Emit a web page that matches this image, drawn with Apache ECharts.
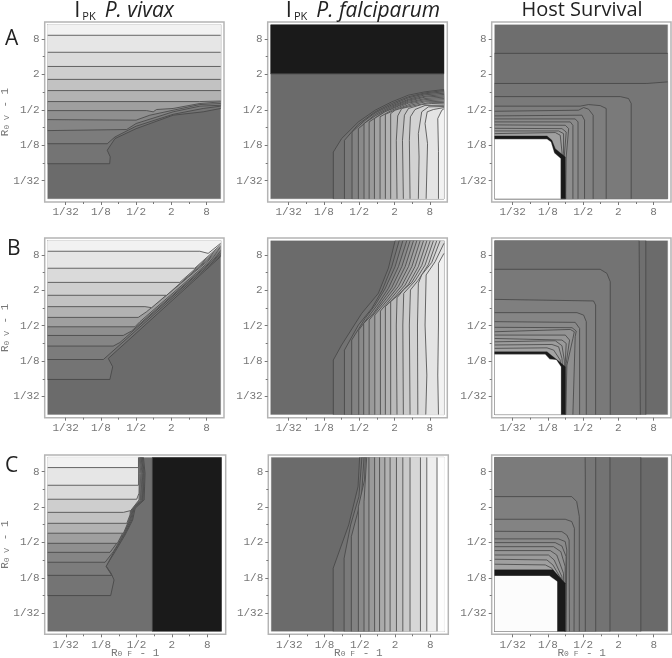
<!DOCTYPE html>
<html><head><meta charset="utf-8">
<style>html,body{margin:0;padding:0;background:#fff}#c{width:672px;height:658px}</style>
<script src="https://cdn.jsdelivr.net/npm/echarts@6/dist/echarts.min.js"></script>
</head><body><div id="c"></div>
<script>
// All coordinates are log2(R0 - 1)
const XL=-6.02, XR=3.8, YB=-6.02, YT=3.8;
const majorTicks=[-5,-3,-1,1,3];
const minorTicks=[-4,-2,0,2];
const tickLabels={'-5':'1/32','-3':'1/8','-1':'1/2','1':'2','3':'8'};

const BLACK='#1a1a1a', WHITE='#ffffff';
const shades11=['#747474','#7c7c7c','#858585','#8f8f8f','#9f9f9f','#b2b2b2','#c2c2c2','#cecece','#dadada','#e6e6e6','#f2f2f2'];
const shades16=['#737373','#7a7a7a','#828282','#8a8a8a','#929292','#9a9a9a','#a2a2a2','#aaaaaa','#b2b2b2','#bababa','#c2c2c2','#cacaca','#d2d2d2','#dadada','#e4e4e4','#f2f2f2'];

const A1_lines=[
 [[XL,-4.04],[-2.5,-4.04],[-2.47,-3.65],[-2.64,-3.28],[-2.2,-2.62],[-1,-2.06],[1.1,-1.3],[2.81,-1.11],[XR,-.92]],
 [[XL,-2.91],[-2.64,-2.91],[-2.2,-2.53],[-1,-1.92],[1.1,-1.25],[2.81,-.92],[XR,-.79]],
 [[XL,-2.17],[-1.54,-2.11],[-1,-1.77],[1.1,-1.11],[2.62,-.79],[XR,-.74]],
 [[XL,-1.55],[-1,-1.58],[-.22,-1.3],[1.1,-1.02],[2.62,-.7],[XR,-.64]],
 [[XL,-1.04],[-.41,-1.04],[-.03,-1.11],[.16,-.98],[1.1,-.92],[2.62,-.64],[XR,-.55]],
 [[XL,-.53],[2.6,-.53],[XR,-.5]],
 [[XL,.09],[XR,.09]],
 [[XL,.72],[XR,.72]],
 [[XL,1.45],[XR,1.45]],
 [[XL,2.25],[XR,2.25]],
 [[XL,3.21],[XR,3.21]]
];
const A2_lines=[
 [[-2.47,YB],[-2.47,-3.38],[-2,-2.62],[-1.05,-1.68],[-.1,-1.02],[.84,-.55],[1.79,-.17],[2.73,.02],[XR,.15]],
 [[-1.84,YB],[-1.84,-2.72],[-1.05,-1.81],[-.1,-1.11],[.84,-.64],[1.79,-.26],[2.73,-.04],[XR,.09]],
 [[-1.41,YB],[-1.41,-2.25],[-.67,-1.59],[-.1,-1.17],[.84,-.72],[1.79,-.32],[2.73,-.09],[XR,.02]],
 [[-1.05,YB],[-1.05,-2.06],[-.1,-1.26],[.84,-.79],[1.79,-.4],[2.73,-.15],[XR,-.06]],
 [[-.73,YB],[-.73,-1.77],[-.1,-1.34],[.84,-.85],[1.79,-.45],[2.73,-.23],[XR,-.13]],
 [[-.44,YB],[-.44,-1.68],[.27,-1.21],[.84,-.91],[1.79,-.51],[2.73,-.28],[XR,-.21]],
 [[-.14,YB],[-.14,-1.49],[.46,-1.11],[1.22,-.79],[1.79,-.57],[2.73,-.36],[XR,-.28]],
 [[.18,YB],[.18,-1.39],[.84,-1.02],[1.79,-.62],[2.73,-.42],[XR,-.36]],
 [[.48,YB],[.48,-1.25],[1.22,-.92],[1.98,-.64],[2.73,-.49],[XR,-.43]],
 [[.78,YB],[.78,-1.21],[1.03,-1.02],[1.98,-.72],[2.73,-.55],[XR,-.51]],
 [[1.14,YB],[1.1,-2.72],[1.18,-1.34],[1.41,-.92],[2.16,-.75],[2.92,-.6],[XR,-.58]],
 [[1.5,YB],[1.45,-2.72],[1.56,-1.3],[1.79,-.92],[2.54,-.7],[3.11,-.64],[XR,-.66]],
 [[1.88,YB],[1.84,-2.72],[1.9,-1.39],[2.16,-.98],[2.73,-.75],[XR,-.74]],
 [[2.35,YB],[2.39,-3.66],[2.35,-2.34],[2.54,-1.11],[2.92,-.83],[XR,-.81]],
 [[2.79,YB],[2.87,-2.91],[2.73,-1.77],[2.85,-1.11],[3.2,-.98],[XR,-.87]],
 [[3.49,YB],[3.49,-3.34],[3.45,-1.49],[3.68,-1.02],[XR,-.94]]
];
const A2_black=[[[XL,1.04],[XR,1.04]]];
const A3_lines=[
 [[XR,2.19],[XL,2.19]],
 [[XR,.58],[2.62,.49],[XL,.49]],
 [[1.73,YB],[1.73,-.64],[1.58,-.36],[1.11,-.25],[XL,-.25]],
 [[.31,YB],[.31,-.92],[-.03,-.76],[-.69,-.7],[-1.16,-.79],[XL,-.79]],
 [[-.43,YB],[-.43,-1.3],[-.69,-.96],[-.97,-.87],[-1.26,-1.02],[XL,-1.08]],
 [[-.92,YB],[-.92,-1.58],[-1.07,-1.3],[XL,-1.34]],
 [[-1.29,YB],[-1.29,-1.68],[-1.45,-1.51],[XL,-1.51]],
 [[-1.58,YB],[-1.58,-1.87],[-1.73,-1.68],[XL,-1.68]],
 [[-1.99,YB],[-1.96,-3.66],[-1.82,-2.06],[-2.01,-1.87],[XL,-1.85]],
 [[-1.99,YB],[-2.07,-3.66],[-1.96,-2.25],[-2.2,-2.06],[XL,-2.04]],
 [[-2,YB],[-2.11,-3.47],[-2.11,-2.34],[-2.39,-2.19],[XL,-2.19]],
 [[-2,YB],[-2.2,-3.38],[-2.3,-2.43],[-2.58,-2.28],[XL,-2.34]]
];
const A3_edge=[
 [[-2.01,YB],[-2.01,-3.66],[-2.58,-3.19],[-2.77,-2.72],[-3.05,-2.47],[XL,-2.47]],
 [[-2.28,YB],[-2.28,-3.75],[-2.64,-3.43],[-2.83,-2.81],[-3.05,-2.66],[XL,-2.66]]
];
const A3_shades=['#727272','#767676','#7a7a7a','#7e7e7e','#828282','#868686','#8a8a8a','#8e8e8e','#939393','#989898','#9c9c9c','#a0a0a0'];

const B1_lines=[
 [[XL,-4.04],[-2.49,-4.04],[-2.33,-3.32],[-2.58,-2.85],[XR,2.91]],
 [[XL,-2.91],[-2.86,-2.91],[XR,2.98]],
 [[XL,-2.15],[-2.3,-2.15],[-1.92,-1.95],[XR,3.06]],
 [[XL,-1.55],[-1.73,-1.55],[-1.26,-1.3],[XR,3.11]],
 [[XL,-1.06],[-1.07,-1.06],[-.78,-.77],[XR,3.19]],
 [[XL,-.53],[-.88,-.53],[-.41,-.21],[XR,3.26]],
 [[XL,.08],[-.5,.08],[-.12,.02],[XR,3.34]],
 [[XL,.72],[.73,.72],[XR,3.42]],
 [[XL,1.45],[1.48,1.45],[XR,3.49]],
 [[XL,2.25],[2.33,2.25],[XR,3.57]],
 [[XL,3.21],[2.62,3.21],[3.09,3.09],[XR,3.66]]
];
const B2_lines=[
 [[-2.47,YB],[-2.47,-2.94],[-2,-2.09],[-.86,-.3],[.08,.83],[.65,2.25],[1.03,YT]],
 [[-1.84,YB],[-1.84,-2.38],[-1.05,-.96],[-.29,-.02],[.31,1.02],[.84,2.34],[1.26,YT]],
 [[-1.43,YB],[-1.43,-1.81],[-.67,-.59],[-.1,.17],[.46,1.08],[1.03,2.34],[1.47,YT]],
 [[-1.03,YB],[-1.03,-1.25],[-.48,-.49],[.09,.26],[.65,1.11],[1.22,2.34],[1.69,YT]],
 [[-.75,YB],[-.75,-.87],[-.2,-.3],[.27,.36],[.84,1.15],[1.41,2.34],[1.88,YT]],
 [[-.44,YB],[-.44,-.68],[.46,.45],[1.03,1.19],[1.6,2.34],[2.07,YT]],
 [[-.12,YB],[-.12,-.4],[.65,.51],[1.22,1.23],[1.79,2.34],[2.26,YT]],
 [[.2,YB],[.2,-.17],[.84,.58],[1.41,1.26],[1.98,2.34],[2.45,YT]],
 [[.48,YB],[.48,.08],[1.03,.64],[1.6,1.3],[2.16,2.34],[2.64,YT]],
 [[.78,YB],[.78,.36],[1.22,.74],[1.79,1.34],[2.35,2.34],[2.83,YT]],
 [[1.14,YB],[1.1,-.96],[1.14,.58],[1.5,1.02],[1.98,1.45],[2.54,2.4],[3.02,YT]],
 [[1.5,YB],[1.47,-.96],[1.52,.83],[2.16,1.53],[2.73,2.43],[3.2,YT]],
 [[1.88,YB],[1.84,-.96],[1.9,1.02],[2.35,1.58],[2.92,2.47],[3.39,YT]],
 [[2.32,YB],[2.3,-.96],[2.35,1.4],[2.54,1.87],[3.11,2.58],[3.58,YT]],
 [[2.77,YB],[2.83,-3.79],[2.73,-.96],[2.79,1.87],[3.3,2.62],[XR,3.66]],
 [[3.49,YB],[3.45,-3.79],[3.49,-.96],[3.49,2.53],[XR,3.09]]
];
const B3_lines=[
 [[2.56,YB],[2.56,YT]],
 [[2.25,YB],[2.18,YT]],
 [[.54,YB],[.54,1.49],[.35,1.96],[-.03,2.19],[XL,2.19]],
 [[-.29,YB],[-.29,.17],[-.41,.4],[XL,.49]],
 [[-.82,YB],[-.82,-.77],[-.97,-.4],[-1.35,-.26],[XL,-.26]],
 [[-1.2,YB],[-1.2,-1.15],[-1.45,-.81],[XL,-.77]],
 [[-1.58,YB],[-1.45,-1.62],[-1.39,-1.3],[-1.63,-1.11],[XL,-1.09]],
 [[-1.99,YB],[-1.92,-3.23],[-1.58,-1.72],[-1.5,-1.34],[-1.73,-1.21],[XL,-1.34]],
 [[-1.99,YB],[-1.96,-3.13],[-1.77,-1.81],[-2.01,-1.53],[XL,-1.53]],
 [[-2,YB],[-2.01,-3.04],[-1.96,-2],[-2.2,-1.81],[XL,-1.72]],
 [[-2,YB],[-2.07,-2.94],[-2.2,-2.13],[-2.58,-1.85],[XL,-1.91]],
 [[-2.01,YB],[-2.2,-2.85],[-2.39,-2.19],[-2.77,-2.06],[XL,-2.09]],
 [[-2.01,YB],[-2.3,-2.94],[-2.67,-2.38],[-3.05,-2.25],[XL,-2.28]]
];
const B3_edge=[
 [[-2.01,YB],[-2.01,-3.32],[-2.39,-3],[-2.77,-2.7],[-3.05,-2.47],[XL,-2.47]],
 [[-2.26,YB],[-2.26,-3.32],[-2.52,-2.94],[-2.9,-2.89],[-3.15,-2.62],[XL,-2.62]]
];
const B3_shades=['#6f6f6f','#737373','#797979','#7f7f7f','#858585','#8a8a8a','#8f8f8f','#939393','#979797','#9a9a9a','#9d9d9d','#a0a0a0','#a3a3a3'];

const C1_lines=[
 [[XL,-4],[-2.46,-4],[-2.27,-3.12],[-2.44,-2.74],[-2.72,-2.33],[-2.21,-1.52],[-1.65,-.58],[-1.22,.27],[-1.08,.93],[-.57,1.4],[-.52,2.91],[-.61,YT]],
 [[XL,-2.86],[-2.4,-2.86],[-2.72,-2.36],[-2.27,-1.52],[-1.7,-.58],[-1.27,.27],[-1.14,.93],[-.63,1.4],[-.57,2.91],[-.67,YT]],
 [[XL,-2.12],[-2.78,-2.12],[-2.31,-1.52],[-1.74,-.58],[-1.33,.27],[-1.18,.93],[-.67,1.4],[-.61,2.91],[-.71,YT]],
 [[XL,-1.56],[-2.5,-1.56],[-2.12,-1.05],[-1.78,-.58],[-1.37,.27],[-1.22,.93],[-.71,1.4],[-.65,2.91],[-.74,YT]],
 [[XL,-1.05],[-2.08,-1.05],[-1.84,-.58],[-1.4,.27],[-1.25,.93],[-.75,1.4],[-.69,2.91],[-.78,YT]],
 [[XL,-.48],[-1.74,-.48],[-1.46,.18],[-1.29,.93],[-.78,1.4],[-.73,2.91],[-.8,YT]],
 [[XL,.08],[-1.55,.08],[-1.37,.55],[-1.33,.93],[-.82,1.4],[-.76,2.91],[-.82,YT]],
 [[XL,.7],[-1.74,.7],[-1.33,.8],[-.86,1.4],[-.8,2.91],[-.84,YT]],
 [[XL,1.44],[-.99,1.44],[-.86,1.78],[-.84,2.91],[-.86,YT]],
 [[XL,2.23],[-.89,2.23],[-.88,YT]],
 [[XL,3.23],[-.89,3.23],[-.89,YT]]
];
const C1_black=[[[-.1,YT],[-.1,YB]]];
const C2_lines=[
 [[-2.51,YB],[-2.51,-2.46],[-2.14,-1.43],[-1.63,-.01],[-1.1,2.15],[-1.01,YT]],
 [[-1.89,YB],[-1.89,-1.9],[-1.52,-.01],[-1.05,1.59],[-.88,YT]],
 [[-1.48,YB],[-1.48,-.67],[-.91,1.49],[-.76,YT]],
 [[-1.08,YB],[-1.08,1.02],[-.73,2.53],[-.69,YT]],
 [[-.76,YB],[-.76,1.31],[-.61,YT]],
 [[-.48,YB],[-.48,YT]],
 [[-.16,YB],[-.16,YT]],
 [[.12,YB],[.12,YT]],
 [[.42,YB],[.42,YT]],
 [[.72,YB],[.72,YT]],
 [[1.08,YB],[1.08,YT]],
 [[1.44,YB],[1.44,YT]],
 [[1.85,YB],[1.85,YT]],
 [[2.44,YB],[2.44,YT]],
 [[2.8,YB],[2.8,YT]],
 [[3.38,YB],[3.38,YT]]
];
const C2_shades=['#737373','#7a7a7a','#828282','#8a8a8a','#929292','#9a9a9a','#a2a2a2','#aaaaaa','#b2b2b2','#bababa','#c2c2c2','#cacaca','#d6d6d6','#e0e0e0','#eeeeee','#fdfdfd'];
const C3_lines=[
 [[2.27,YB],[2.27,YT]],
 [[.52,YB],[.52,YT]],
 [[-.29,YB],[-.29,YT]],
 [[-.88,YB],[-.88,2.53],[-.89,YT]],
 [[-1.22,YB],[-1.22,.46],[-1.37,1.31],[-1.65,1.59],[XL,1.59]],
 [[-1.52,YB],[-1.5,-.2],[-1.65,.18],[-2.02,.31],[XL,.31]],
 [[-1.78,YB],[-1.8,-.86],[-1.93,-.58],[-2.21,-.39],[XL,-.37]],
 [[-1.97,YB],[-1.93,-1.43],[-2.02,-.95],[-2.4,-.8],[XL,-.8]],
 [[-2.02,YB],[-1.97,-1.8],[-2.21,-1.2],[-2.59,-1.01],[XL,-1.01]],
 [[-2.02,YB],[-2.02,-2.37],[-2.27,-1.52],[-2.68,-1.24],[XL,-1.24]],
 [[-2.03,YB],[-2.12,-2.74],[-2.5,-1.71],[-2.87,-1.46],[XL,-1.46]],
 [[-2.04,YB],[-2.21,-2.93],[-2.65,-1.99],[-2.97,-1.71],[XL,-1.71]],
 [[-2.04,YB],[-2.27,-3.03],[-2.72,-2.27],[-3.06,-1.99],[XL,-1.95]],
 [[-2.04,YB],[-2.31,-3.12],[-2.78,-2.46],[-3.15,-2.27],[XL,-2.23]]
];
const C3_edge=[
 [[-2.02,YB],[-2.02,-3.31],[-2.72,-2.55],[XL,-2.55]],
 [[-2.48,YB],[-2.48,-3.21],[-2.91,-2.89],[XL,-2.89]]
];
const C3_shades=['#6f6f6f','#737373','#777777','#7b7b7b','#7f7f7f','#838383','#878787','#8b8b8b','#8f8f8f','#939393','#979797','#9b9b9b','#9f9f9f','#a3a3a3'];

// panel: grid box, ranges, background band, layers painted in order
const G=(left,top,width,height,xMax,yR)=>({left,top,width,height,xMax,yR});
const yA=[-6.2,3.96], yC=[-6.19,3.94];
const panels=[
 {g:G(44.7,22,179.3,180,3.99,yA),base:'#6b6b6b',layers:[{lines:A1_lines,shades:shades11}]},
 {g:G(267.7,22,179.6,180,3.99,yA),base:'#6b6b6b',layers:[{lines:A2_lines,shades:shades16,rev:true},{lines:A2_black,shades:[BLACK]}]},
 {g:G(491.7,22,179.3,180,3.99,yA),base:'#6e6e6e',layers:[{lines:A3_lines,shades:A3_shades},{lines:A3_edge,shades:[BLACK,WHITE],plain:true}]},
 {g:G(44.7,238,179.3,179.7,3.99,yA),base:'#6b6b6b',layers:[{lines:B1_lines,shades:shades11}]},
 {g:G(267.7,238,179.6,179.7,3.99,yA),base:'#6b6b6b',layers:[{lines:B2_lines,shades:shades16,rev:true}]},
 {g:G(491.7,238,179.3,179.7,3.99,yA),base:'#6b6b6b',layers:[{lines:B3_lines,shades:B3_shades},{lines:B3_edge,shades:[BLACK,WHITE],plain:true}]},
 {g:G(44.7,455,181,179.3,4.04,yC),base:'#6f6f6f',layers:[{lines:C1_lines,shades:shades11},{lines:C1_black,shades:[BLACK]}]},
 {g:G(268.3,455,180,179.3,4.02,yC),base:'#6b6b6b',layers:[{lines:C2_lines,shades:C2_shades,rev:true}]},
 {g:G(491.7,455,180,179.3,4.02,yC),base:'#6a6a6a',layers:[{lines:C3_lines,shades:C3_shades},{lines:C3_edge,shades:[BLACK,'#fcfcfc'],plain:true}]}
];

const W=XR-XL,H=YT-YB,P=2*W+2*H;
function perim(p){const x=p[0],y=p[1];
 if(y===YB)return x-XL; if(x===XR)return W+y-YB; if(y===YT)return W+H+XR-x; return 2*W+H+YT-y;}
const cornerList=[[W,[XR,YB]],[W+H,[XR,YT]],[2*W+H,[XL,YT]],[P,[XL,YB]]];
function closePoly(pts){
 let t0=perim(pts[pts.length-1]),t1=perim(pts[0]); if(t1<=t0)t1+=P;
 const out=pts.slice();
 [0,P].forEach(o=>cornerList.forEach(c=>{const t=c[0]+o; if(t>t0&&t<t1)out.push(c[1]);}));
 return out;
}
const TICK='#777', FRAME='#b4b4b4', MONO='"Liberation Mono",monospace';
const LINE='#444';
const nameRich={a:{fontFamily:MONO,fontSize:11,color:'#777'},s:{fontFamily:MONO,fontSize:8,color:'#777',verticalAlign:'bottom',padding:[3,1,0,0]}};

const grid=[],xAxis=[],yAxis=[],series=[];
panels.forEach((pn,i)=>{
 grid.push({show:true,outerBoundsMode:'none',left:pn.g.left,top:pn.g.top,width:pn.g.width,height:pn.g.height,borderColor:FRAME,borderWidth:1.5,backgroundColor:'#fff'});
 const xb={type:'value',gridIndex:i,position:'bottom',min:-6.19,max:pn.g.xMax,splitLine:{show:false},axisLine:{show:false,onZero:false}};
 const yb={type:'value',gridIndex:i,position:'left',min:pn.g.yR[0],max:pn.g.yR[1],splitLine:{show:false},axisLine:{show:false,onZero:false}};
 const lab={show:true,customValues:majorTicks,formatter:v=>tickLabels[String(v)]||'',fontFamily:MONO,fontSize:11,color:'#777',margin:5};
 const x0=Object.assign({},xb,{axisTick:{show:true,customValues:majorTicks,length:3,lineStyle:{color:TICK,width:1}},axisLabel:lab});
 if(i>=6)Object.assign(x0,{name:'{a|R}{s|0 F}{a| - 1}',nameLocation:'middle',nameGap:13,nameMoveOverlap:false,nameTextStyle:{rich:nameRich}});
 const y0=Object.assign({},yb,{axisTick:{show:true,customValues:majorTicks,length:3,lineStyle:{color:TICK,width:1}},axisLabel:lab});
 if(i%3===0)Object.assign(y0,{name:'{a|R}{s|0 V}{a| - 1}',nameLocation:'middle',nameGap:34,nameMoveOverlap:false,nameRotate:90,nameTextStyle:{rich:nameRich}});
 xAxis.push(x0,Object.assign({},xb,{axisTick:{show:true,customValues:minorTicks,length:2,lineStyle:{color:TICK,width:1}},axisLabel:{show:false}}));
 yAxis.push(y0,Object.assign({},yb,{axisTick:{show:true,customValues:minorTicks,length:2,lineStyle:{color:TICK,width:1}},axisLabel:{show:false}}));

 const items=[{poly:[[XL,YB],[XR,YB],[XR,YT],[XL,YT]],fill:pn.base,stroke:null}];
 pn.layers.forEach(l=>l.lines.forEach((ln,k)=>{
   const pts=l.rev?ln.slice().reverse():ln;
   items.push({poly:closePoly(pts),line:pts,fill:l.shades[k],stroke:l.plain?null:LINE});
 }));
 series.push({type:'custom',xAxisIndex:2*i,yAxisIndex:2*i,clip:true,silent:true,animation:false,
  data:items.map((_,k)=>[k]),
  renderItem:(params,api)=>{
   const it=items[params.dataIndex];
   const children=[{type:'polygon',shape:{points:it.poly.map(p=>api.coord(p))},style:{fill:it.fill,stroke:it.fill,lineWidth:.3}}];
   if(it.stroke)children.push({type:'polyline',shape:{points:it.line.map(p=>api.coord(p))},style:{fill:null,stroke:it.stroke,lineWidth:.8}});
   return {type:'group',children};
  }});
});

const titleRich={i:{fontFamily:'"Open Sans"',fontSize:22,color:'#222'},p:{fontFamily:'"Open Sans"',fontSize:11,color:'#222',verticalAlign:'bottom',padding:[5,0,0,2]},b:{fontFamily:'"Open Sans"',fontStyle:'italic',fontSize:21,color:'#222',padding:[0,0,0,9]}};
const T=(text,cx,top)=>({text,left:cx,top,textAlign:'center',padding:0,textStyle:{rich:titleRich,fontFamily:'"Open Sans"',fontSize:20,color:'#222',fontWeight:'normal'}});
const L=(text,left,top)=>({text,left,top,padding:0,textStyle:{fontFamily:'"Open Sans"',fontSize:21,color:'#222',fontWeight:'normal'}});
const title=[
 T('{i|I}{p|PK}{b|P. vivax}',124,0),
 T('{i|I}{p|PK}{b|P. falciparum}',363,0),
 T('Host Survival',582,0),
 L('A',5,29),L('B',7,239),L('C',5,456)
];
const chart=echarts.init(document.getElementById('c'),null,{renderer:'canvas'});
chart.setOption({animation:false,backgroundColor:'#fff',title,grid,xAxis,yAxis,series});
</script></body></html>
